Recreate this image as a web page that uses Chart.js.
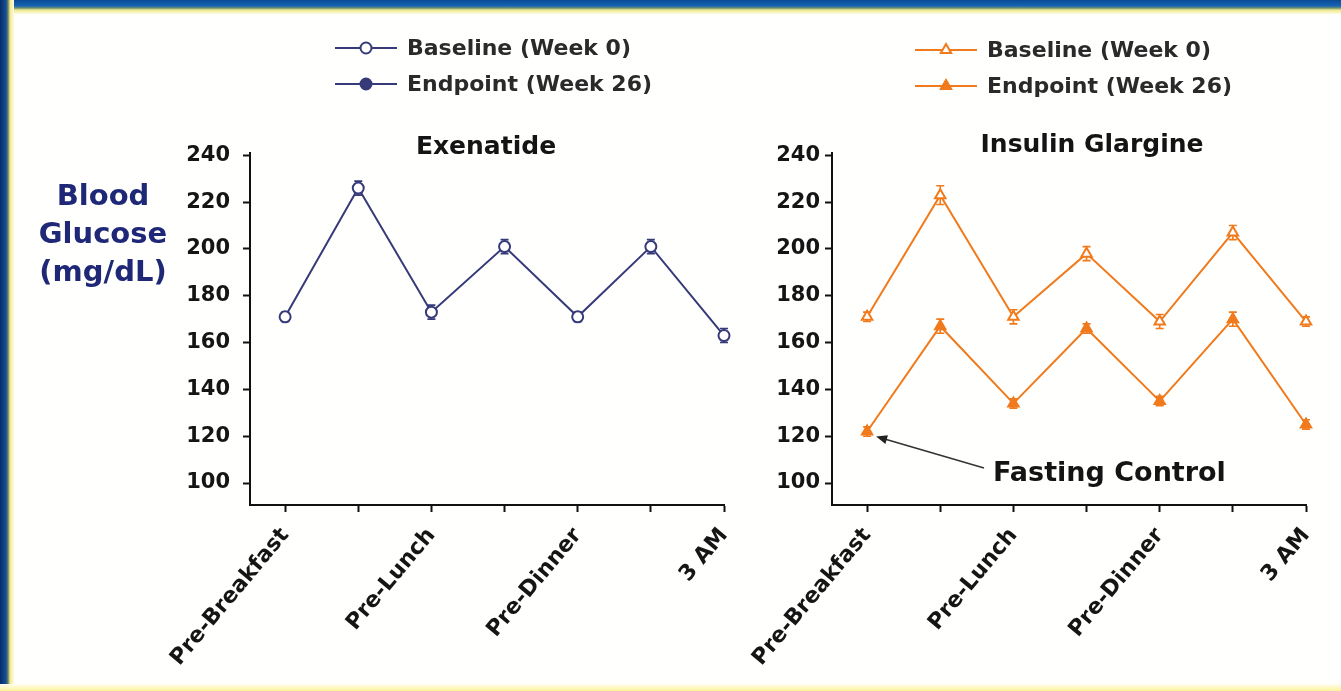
<!DOCTYPE html>
<html>
<head>
<meta charset="utf-8">
<title>Blood Glucose Profiles</title>
<script src="https://cdn.jsdelivr.net/npm/chart.js@4.4.1/dist/chart.umd.min.js"></script>
<style>
  html, body { margin: 0; padding: 0; background: #ffffff; }
  #slide { position: relative; width: 1341px; height: 691px; overflow: hidden; background: #fffffd; }
  .edge-top { position: absolute; left: 0; top: 0; width: 1341px; height: 14px;
    background: linear-gradient(#0b4a94 0px, #1766b4 6px, #6f8f70 8px, #eee98c 10px, #fffbe2 14px); }
  .edge-left { position: absolute; left: 0; top: 0; width: 14px; height: 691px;
    background: linear-gradient(90deg, #082c66 0px, #124f98 6px, #6a7d5c 8px, #efe98a 10px, #fffde6 14px); }
  .edge-bottom { position: absolute; left: 0; bottom: 0; width: 1341px; height: 7px;
    background: linear-gradient(#fffdf0, #fff49a); }
  .panel { position: absolute; top: 0; height: 691px; }
  #left-panel { left: 0; width: 760px; }
  #right-panel { left: 720px; width: 621px; }
</style>
</head>
<body>
<div id="slide">
  <div class="edge-top"></div>
  <div class="edge-left"></div>
  <div class="edge-bottom"></div>
  <div class="panel" id="left-panel"><canvas id="exenatide" width="760" height="691"></canvas></div>
  <div class="panel" id="right-panel"><canvas id="glargine" width="621" height="691"></canvas></div>
</div>
<script>
// Measurement times across the day (odd slots are the post-meal readings, left unlabelled)
const timePoints = ['Pre-Breakfast', '', 'Pre-Lunch', '', 'Pre-Dinner', '', '3 AM'];
const glucoseTicks = [100, 120, 140, 160, 180, 200, 220, 240];

// Exenatide arm, 7-point self-monitored blood glucose (mg/dL)
const exenatideBaseline = [171, 226, 173, 201, 171, 201, 163];
const exenatideBaselineErr = [2, 3, 3, 3, 2, 3, 3];
const exenatideEndpoint = [];

// Insulin glargine arm
const glargineBaseline = [171, 223, 171, 198, 169, 207, 169];
const glargineBaselineErr = [2, 4, 3, 3, 3, 3, 2];
const glargineEndpoint = [122, 167, 134, 166, 135, 170, 125];
const glargineEndpointErr = [2, 3, 2, 2, 2, 3, 2];

const legendLabels = ['Baseline (Week 0)', 'Endpoint (Week 26)'];

const NAVY = '#363a78';
const ORANGE = '#f07a1c';
const FONT = "'DejaVu Sans', 'Liberation Sans', sans-serif";
Chart.defaults.font.family = FONT;

const toPoints = arr => arr.map((v, i) => ({ x: i, y: v }));

// Small vertical SEM bars with caps, drawn beneath the markers
const errorBarPlugin = {
  id: 'errorBars',
  beforeDatasetsDraw(chart) {
    const ctx = chart.ctx;
    const yScale = chart.scales.y;
    chart.data.datasets.forEach((ds, di) => {
      if (!ds.errorBars) return;
      const meta = chart.getDatasetMeta(di);
      ctx.save();
      ctx.strokeStyle = ds.borderColor;
      ctx.lineWidth = 1.6;
      meta.data.forEach((pt, i) => {
        const v = ds.data[i].y;
        const e = ds.errorBars[i];
        const top = yScale.getPixelForValue(v + e);
        const bot = yScale.getPixelForValue(v - e);
        ctx.beginPath();
        ctx.moveTo(pt.x, top); ctx.lineTo(pt.x, bot);
        ctx.moveTo(pt.x - 4, top); ctx.lineTo(pt.x + 4, top);
        ctx.moveTo(pt.x - 4, bot); ctx.lineTo(pt.x + 4, bot);
        ctx.stroke();
      });
      ctx.restore();
    });
  }
};

// Panel title, stacked legend, optional y-axis caption and callout
const panelDecorPlugin = {
  id: 'panelDecor',
  afterDraw(chart, args, opts) {
    const ctx = chart.ctx;
    const area = chart.chartArea;
    ctx.save();

    // title
    ctx.fillStyle = '#141414';
    ctx.font = `bold 25px ${FONT}`;
    ctx.textAlign = 'center';
    ctx.textBaseline = 'middle';
    ctx.fillText(opts.title, area.left + opts.titleDx, area.top + opts.titleDy);

    // legend: line segment with marker, then label
    chart.data.datasets.forEach((ds, i) => {
      const x0 = area.left + opts.legendDx;
      const y0 = area.top + opts.legendDy + i * 36;
      ctx.strokeStyle = ds.borderColor;
      ctx.lineWidth = 2;
      ctx.beginPath();
      ctx.moveTo(x0, y0); ctx.lineTo(x0 + 62, y0);
      ctx.stroke();
      ctx.fillStyle = ds.pointBackgroundColor;
      ctx.strokeStyle = ds.pointBorderColor;
      ctx.lineWidth = ds.pointBorderWidth;
      Chart.helpers.drawPoint(ctx, {
        pointStyle: ds.pointStyle, rotation: 0,
        radius: ds.pointRadius, borderWidth: ds.pointBorderWidth
      }, x0 + 31, y0);
      ctx.fillStyle = '#2a2a2a';
      ctx.font = `bold 22px ${FONT}`;
      ctx.textAlign = 'left';
      ctx.textBaseline = 'middle';
      ctx.fillText(ds.label, x0 + 72, y0 + 1);
    });

    // vertical axis caption, written horizontally on three lines
    if (opts.yCaption) {
      ctx.fillStyle = '#1f2777';
      ctx.font = `bold 29px ${FONT}`;
      ctx.textAlign = 'center';
      ctx.textBaseline = 'middle';
      opts.yCaption.forEach((line, i) => {
        ctx.fillText(line, area.left + opts.yCaptionDx, area.top + opts.yCaptionDy + i * 38);
      });
    }

    // callout pointing at a data point
    if (opts.callout) {
      const c = opts.callout;
      const meta = chart.getDatasetMeta(c.dataset);
      const pt = meta.data[c.index];
      const tx = area.left + c.textDx;
      const ty = area.top + c.textDy;
      ctx.fillStyle = '#141414';
      ctx.font = `bold 27px ${FONT}`;
      ctx.textAlign = 'left';
      ctx.textBaseline = 'middle';
      ctx.fillText(c.text, tx, ty);

      const sx = tx - 9, sy = ty - 6;
      const ex = pt.x + 9, ey = pt.y + 5;
      const ang = Math.atan2(ey - sy, ex - sx);
      ctx.strokeStyle = '#333333';
      ctx.fillStyle = '#222222';
      ctx.lineWidth = 1.6;
      ctx.beginPath();
      ctx.moveTo(sx, sy);
      ctx.lineTo(ex - 8 * Math.cos(ang), ey - 8 * Math.sin(ang));
      ctx.stroke();
      ctx.beginPath();
      ctx.moveTo(ex, ey);
      ctx.lineTo(ex - 11 * Math.cos(ang) + 4.5 * Math.sin(ang), ey - 11 * Math.sin(ang) - 4.5 * Math.cos(ang));
      ctx.lineTo(ex - 11 * Math.cos(ang) - 4.5 * Math.sin(ang), ey - 11 * Math.sin(ang) + 4.5 * Math.cos(ang));
      ctx.closePath();
      ctx.fill();
    }
    ctx.restore();
  }
};

function axisStyle() {
  return {
    grid: { display: true, drawOnChartArea: false, drawTicks: true, tickLength: 7, tickWidth: 2, tickColor: '#111' },
    border: { display: true, color: '#111', width: 2 }
  };
}

function buildScales(yAxisWidth, yLabelPad) {
  return {
    x: Object.assign({
      type: 'linear',
      min: -0.48,
      max: 6,
      afterBuildTicks: s => { s.ticks = timePoints.map((_, i) => ({ value: i })); },
      afterFit: s => { s.height = 186; },
      ticks: {
        autoSkip: false, maxRotation: 50, minRotation: 50, padding: 11,
        color: '#151515', font: { size: 22, weight: 'bold' },
        callback: v => timePoints[v] ?? ''
      }
    }, axisStyle()),
    y: Object.assign({
      type: 'linear',
      min: 90.6,
      max: 241,
      afterBuildTicks: s => { s.ticks = glucoseTicks.map(v => ({ value: v })); },
      afterFit: s => { s.width = yAxisWidth; },
      ticks: { padding: yLabelPad, color: '#151515', font: { size: 21, weight: 'bold' } }
    }, axisStyle())
  };
}

function series(label, values, errors, color, style, filled) {
  return {
    label,
    data: toPoints(values),
    errorBars: errors,
    borderColor: color,
    borderWidth: 2,
    pointStyle: style,
    pointRadius: style === 'triangle' ? 6 : 5.5,
    pointBorderWidth: 2,
    pointBorderColor: color,
    pointBackgroundColor: filled ? color : '#ffffff',
    tension: 0,
    clip: false
  };
}

new Chart(document.getElementById('exenatide'), {
  type: 'line',
  data: {
    datasets: [
      series(legendLabels[0], exenatideBaseline, exenatideBaselineErr, NAVY, 'circle', false),
      series(legendLabels[1], exenatideEndpoint, null, NAVY, 'circle', true)
    ]
  },
  options: {
    responsive: false,
    animation: false,
    events: [],
    layout: { padding: { top: 153, right: 36, bottom: 0, left: 0 } },
    scales: buildScales(250, 13),
    plugins: {
      legend: { display: false },
      tooltip: { enabled: false },
      panelDecor: {
        title: 'Exenatide', titleDx: 236, titleDy: -6,
        legendDx: 85, legendDy: -105,
        yCaption: ['Blood', 'Glucose', '(mg/dL)'], yCaptionDx: -147, yCaptionDy: 44
      }
    }
  },
  plugins: [errorBarPlugin, panelDecorPlugin]
});

new Chart(document.getElementById('glargine'), {
  type: 'line',
  data: {
    datasets: [
      series(legendLabels[0], glargineBaseline, glargineBaselineErr, ORANGE, 'triangle', false),
      series(legendLabels[1], glargineEndpoint, glargineEndpointErr, ORANGE, 'triangle', true)
    ]
  },
  options: {
    responsive: false,
    animation: false,
    events: [],
    layout: { padding: { top: 153, right: 35, bottom: 0, left: 0 } },
    scales: buildScales(112, 5),
    plugins: {
      legend: { display: false },
      tooltip: { enabled: false },
      panelDecor: {
        title: 'Insulin Glargine', titleDx: 260, titleDy: -8,
        legendDx: 83, legendDy: -103,
        callout: { text: 'Fasting Control', dataset: 1, index: 0, textDx: 161, textDy: 321 }
      }
    }
  },
  plugins: [errorBarPlugin, panelDecorPlugin]
});
</script>
</body>
</html>
